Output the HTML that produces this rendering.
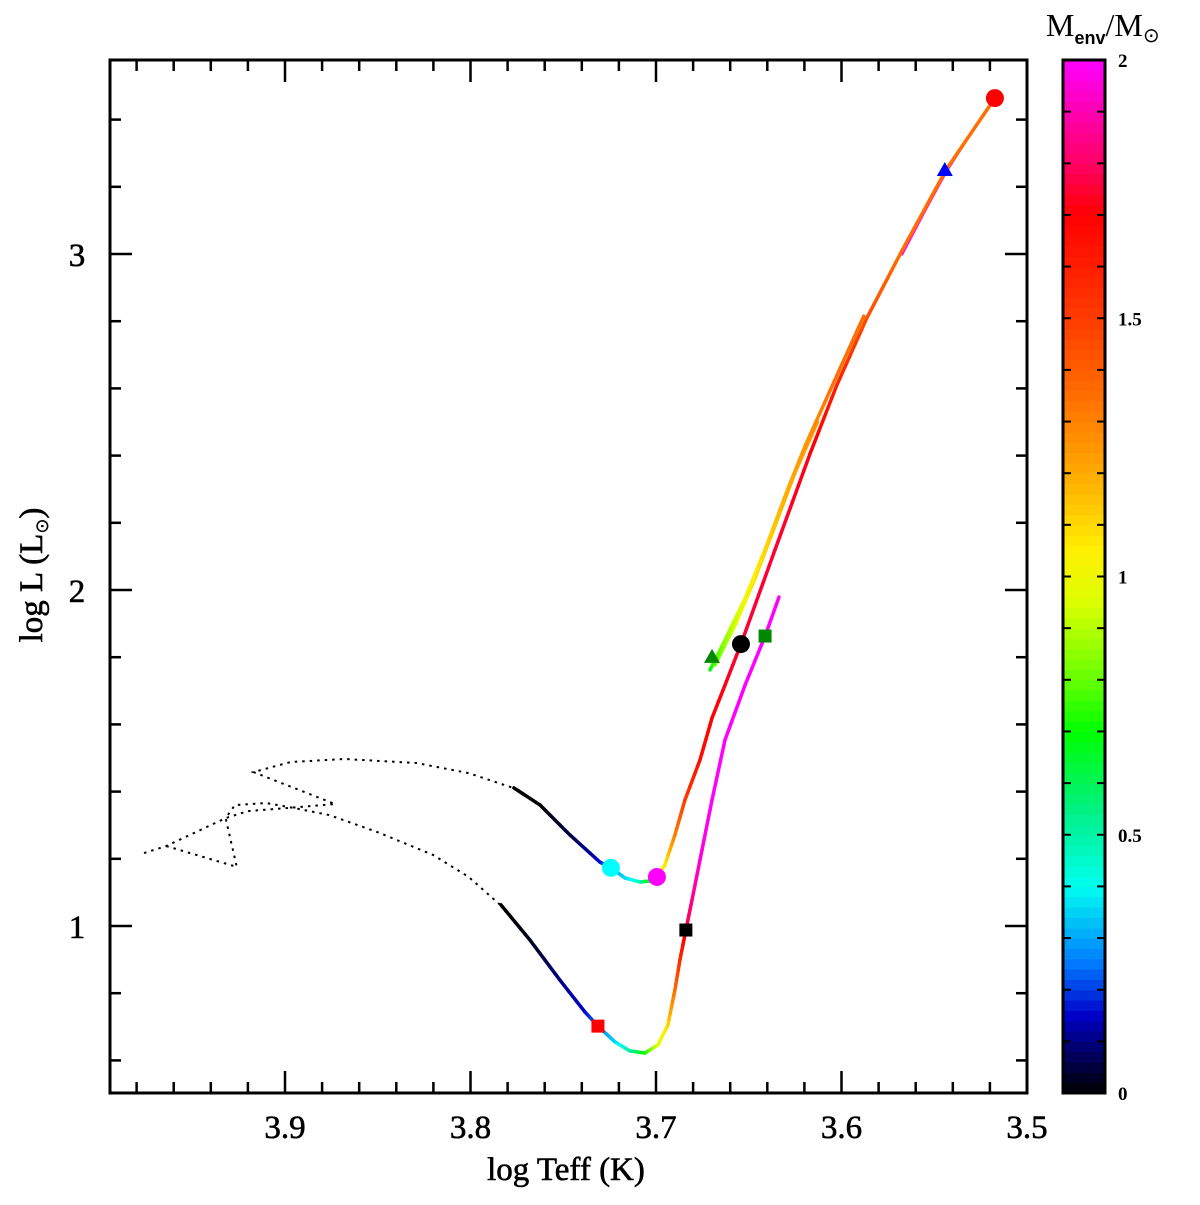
<!DOCTYPE html>
<html><head><meta charset="utf-8"><style>
html,body{margin:0;padding:0;background:#fff;}
svg text{font-family:"Liberation Serif",serif;}
</style></head><body>
<svg id="chart" width="1200" height="1200" viewBox="0 0 1200 1200" xmlns="http://www.w3.org/2000/svg">
<g id="plot"></g>
<g id="cbar"></g>
<text x="566" y="1180" font-size="33" stroke="#000" stroke-width="0.6" text-anchor="middle">log Teff (K)</text>
<text transform="translate(42,575) rotate(-90)" font-size="33" stroke="#000" stroke-width="0.6" text-anchor="middle">log L (L<tspan font-family="DejaVu Sans" font-size="18" dy="6" stroke-width="0.3">⊙</tspan><tspan dy="-6">)</tspan></text>
<text x="1046" y="36" font-size="32">M<tspan font-size="18" font-weight="bold" font-family="Liberation Sans" dy="8">env</tspan><tspan dy="-8">/M</tspan><tspan font-family="DejaVu Sans" font-size="20" dy="6">⊙</tspan></text>
</svg>
<script>
// ---- data ----
const xTicksMajor = [3.9, 3.8, 3.7, 3.6, 3.5];
const xTickLabels = ["3.9", "3.8", "3.7", "3.6", "3.5"];
const yTicksMajor = [1, 2, 3];
const yTickLabels = ["1", "2", "3"];
const cbTicks = [0, 0.5, 1, 1.5, 2];
const cbTickLabels = ["0", "0.5", "1", "1.5", "2"];

const dottedUpperT = [3.976,3.964,3.932,3.920,3.899,3.873,3.917,3.897,3.868,3.829,3.801,3.777];
const dottedUpperL = [1.217,1.238,1.321,1.342,1.351,1.363,1.458,1.488,1.497,1.485,1.455,1.411];
const dottedLowerT = [3.964,3.926,3.932,3.927,3.910,3.895,3.876,3.849,3.820,3.801,3.784];
const dottedLowerL = [1.238,1.176,1.321,1.360,1.366,1.351,1.330,1.277,1.211,1.146,1.063];

const upperT = [3.7766,3.7625,3.7464,3.7302,3.7243,3.7167,3.7086,3.7033,3.6995,3.6952,3.6898,3.6844,3.6763,3.6698,3.6628,3.6542,3.6359,3.6170,3.6025,3.5863,3.5674,3.5437,3.5173];
const upperL = [1.411,1.360,1.271,1.190,1.173,1.143,1.131,1.134,1.146,1.182,1.271,1.375,1.494,1.619,1.717,1.839,2.119,2.405,2.610,2.810,3.010,3.250,3.464];
const upperM = [0,0,0.05,0.15,0.3,0.35,0.45,0.7,0.9,1.05,1.3,1.5,1.65,1.7,1.72,1.75,1.75,1.72,1.6,1.45,1.35,1.35,1.35];

const branch1T = [3.6709,3.6628,3.6520,3.6413,3.6290,3.6195,3.6040,3.5880];
const branch1L = [1.762,1.851,1.975,2.119,2.300,2.430,2.620,2.815];
const branch1M = [0.7,0.85,1.0,1.1,1.2,1.25,1.35,1.35];
const branch2T = [3.6682,3.6574,3.6470,3.6380,3.6250,3.6130];
const branch2L = [1.777,1.895,2.030,2.160,2.350,2.500];
const branch2M = [0.8,0.95,1.1,1.15,1.2,1.25];
const topSegT = [3.5674,3.5550,3.5437,3.5350];
const topSegL = [3.000,3.130,3.245,3.320];
const topSegM = [2,2,2,2];

const lowerT = [3.7836,3.7679,3.7518,3.7383,3.7313,3.7221,3.7140,3.7060,3.6990,3.6936,3.6898,3.6871,3.6839,3.6806,3.6763,3.6698,3.6628,3.6520,3.6412,3.6337];
const lowerL = [1.063,0.958,0.839,0.744,0.702,0.655,0.628,0.622,0.646,0.705,0.810,0.899,0.988,1.077,1.196,1.375,1.554,1.717,1.863,1.979];
const lowerM = [0,0.02,0.1,0.15,0.25,0.35,0.5,0.7,0.95,1.1,1.35,1.55,1.75,1.85,1.95,2,2,2,2,2];

const markerT = [3.7243,3.6995,3.6542,3.5173,3.5443,3.6698,3.6412,3.6839,3.7313];
const markerL = [1.173,1.146,1.839,3.464,3.250,1.801,1.863,0.988,0.702];
const markerShape = ["circle","circle","circle","circle","triangle","triangle","square","square","square"];
const markerColor = ["#00ffff","#ff00ff","#000000","#ff0000","#0000ff","#008800","#008800","#000000","#ff0000"];
const markerNames = ["cyan-circle","magenta-circle","black-circle","red-circle","blue-triangle","green-triangle","green-square","black-square","red-square"];

// colormap stops
const cmapV = [0,0.08,0.15,0.25,0.4,0.55,0.7,0.8,0.95,1.05,1.2,1.35,1.5,1.7,1.8,2.0];
const cmapC = [[0,0,0],[0,0,100],[0,0,200],[0,120,255],[0,255,240],[0,240,130],[0,255,0],[100,255,0],[220,255,0],[255,240,0],[255,170,0],[255,110,0],[255,60,0],[255,0,0],[255,0,100],[255,0,255]];

// ---- axes ----
const X0=110, X1=1027, Y0=60, Y1=1093;
const tMin=3.9+(285-X0)/1855, tMax=3.5;
const lMin=1-(Y1-926)/336, lMax=1+(926-Y0)/336;
function xs(t){return X0+(tMin-t)/(tMin-tMax)*(X1-X0);}
function ys(l){return Y1-(l-lMin)/(lMax-lMin)*(Y1-Y0);}
function cmap(v){
  v=Math.max(0,Math.min(2,v));
  for(let i=1;i<cmapV.length;i++){ if(v<=cmapV[i]){const f=(v-cmapV[i-1])/(cmapV[i]-cmapV[i-1]);const a=cmapC[i-1],b=cmapC[i];return `rgb(${Math.round(a[0]+(b[0]-a[0])*f)},${Math.round(a[1]+(b[1]-a[1])*f)},${Math.round(a[2]+(b[2]-a[2])*f)})`;}}
  return "rgb(255,0,255)";
}
const NS="http://www.w3.org/2000/svg";
function mk(tag,attrs,parent){const e=document.createElementNS(NS,tag);for(const k in attrs)e.setAttribute(k,attrs[k]);parent.appendChild(e);return e;}
const plot=document.getElementById('plot');
const cb=document.getElementById('cbar');

const frame=mk('rect',{x:X0,y:Y0,width:X1-X0,height:Y1-Y0,fill:'none',stroke:'#000','stroke-width':3},plot);



for(let k=0;k<=24;k++){
  const t=3.98-k*0.02; if(t<3.5-1e-6) break;
  const major=Math.abs(t*10-Math.round(t*10))<1e-6;
  const x=xs(t); const len=major?22:11;
  const a=mk('line',{x1:x,y1:Y1,x2:x,y2:Y1-len,stroke:'#000','stroke-width':2.5},plot);
  
  
  const b=mk('line',{x1:x,y1:Y0,x2:x,y2:Y0+len,stroke:'#000','stroke-width':2.5},plot);
  
  
}
xTicksMajor.forEach((t,i)=>{
  const tx=mk('text',{x:xs(t),y:1138,'font-size':33,stroke:'#000','stroke-width':0.6,'text-anchor':'middle'},plot);
  tx.textContent=xTickLabels[i];
  
  
});
for(let k=0;k<=15;k++){
  const l=0.6+k*0.2; if(l>lMax) break;
  const major=Math.abs(l-Math.round(l))<1e-6;
  const y=ys(l); const len=major?22:11;
  const a=mk('line',{x1:X0,y1:y,x2:X0+len,y2:y,stroke:'#000','stroke-width':2.5},plot);
  
  
  const b=mk('line',{x1:X1,y1:y,x2:X1-len,y2:y,stroke:'#000','stroke-width':2.5},plot);
  
  
}
yTicksMajor.forEach((l,i)=>{
  const tx=mk('text',{x:77,y:ys(l)+12,'font-size':33,stroke:'#000','stroke-width':0.6,'text-anchor':'middle'},plot);
  tx.textContent=yTickLabels[i];
  
  
});

function dotted(T,L,name){
  const p=mk('polyline',{points:T.map((t,i)=>xs(t)+','+ys(L[i])).join(' '),fill:'none',stroke:'#000','stroke-width':2,'stroke-dasharray':'2.5,5'},plot);
  
  
}
dotted(dottedUpperT,dottedUpperL,'dotted-track-upper');
dotted(dottedLowerT,dottedLowerL,'dotted-track-lower');

function colored(T,L,M,name,w){
  const g=mk('g',{},plot);
  
  
  for(let i=0;i<T.length-1;i++){
    const n=6;
    for(let s=0;s<n;s++){
      const f0=s/n,f1=(s+1)/n;
      const ta=T[i]+(T[i+1]-T[i])*f0, tb=T[i]+(T[i+1]-T[i])*f1;
      const la=L[i]+(L[i+1]-L[i])*f0, lb=L[i]+(L[i+1]-L[i])*f1;
      const m=M[i]+(M[i+1]-M[i])*(f0+f1)/2;
      mk('line',{x1:xs(ta),y1:ys(la),x2:xs(tb),y2:ys(lb),stroke:cmap(m),'stroke-width':w,'stroke-linecap':'round'},g);
    }
  }
}
colored(topSegT,topSegL,topSegM,'track-top-magenta',3);
colored(lowerT,lowerL,lowerM,'track-lower',3.5);
colored(upperT,upperL,upperM,'track-upper',3.5);
colored(branch2T,branch2L,branch2M,'track-branch-2',3.5);
colored(branch1T,branch1L,branch1M,'track-branch-1',3.5);

markerT.forEach((t,i)=>{
  const x=xs(t),y=ys(markerL[i]);let e;
  if(markerShape[i]==='circle') e=mk('circle',{cx:x,cy:y,r:9,fill:markerColor[i]},plot);
  else if(markerShape[i]==='square') e=mk('rect',{x:x-6.5,y:y-6.5,width:13,height:13,fill:markerColor[i]},plot);
  else e=mk('polygon',{points:`${x},${y-8} ${x-8},${y+6} ${x+8},${y+6}`,fill:markerColor[i]},plot);
  
  
});

const CX0=1063,CX1=1105;
function cy(v){return Y1-v/2*(Y1-Y0);}
const grad=mk('g',{},cb);


for(let k=0;k<100;k++){
  const v0=k*0.02,v1=(k+1)*0.02;
  mk('rect',{x:CX0,y:cy(v1),width:CX1-CX0,height:cy(v0)-cy(v1)+0.6,fill:cmap((v0+v1)/2)},grad);
}
const cbf=mk('rect',{x:CX0,y:Y0,width:CX1-CX0,height:Y1-Y0,fill:'none',stroke:'#000','stroke-width':3},cb);


for(let k=1;k<20;k++){
  const y=cy(k*0.1);
  const a=mk('line',{x1:CX0,y1:y,x2:CX0+8,y2:y,stroke:'#000','stroke-width':2},cb);
  
  
  const b=mk('line',{x1:CX1,y1:y,x2:CX1-8,y2:y,stroke:'#000','stroke-width':2},cb);
  
  
}
cbTicks.forEach((v,i)=>{
  const tx=mk('text',{x:1118,y:cy(v)+7,'font-size':19,'font-weight':'bold','font-family':'Liberation Sans, sans-serif'},cb);
  tx.textContent=cbTickLabels[i];
  
  
});
</script>
</body></html>
